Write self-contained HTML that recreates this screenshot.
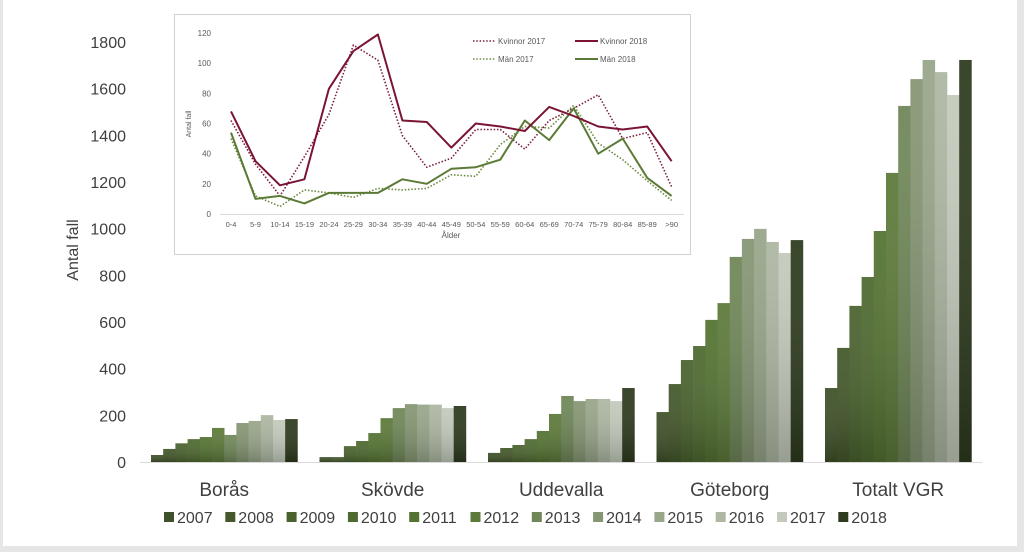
<!DOCTYPE html>
<html><head><meta charset="utf-8"><style>
html,body{margin:0;padding:0;background:#e6e6e6;}
svg{display:block;font-family:"Liberation Sans",sans-serif;}
</style></head><body>
<svg id="c" width="1024" height="552" viewBox="0 0 1024 552" xmlns="http://www.w3.org/2000/svg">
<defs>
<linearGradient id="shade" x1="0" y1="0" x2="0" y2="1">
<stop offset="0" stop-color="#fff" stop-opacity="0.06"/>
<stop offset="1" stop-color="#000" stop-opacity="0.22"/>
</linearGradient>
</defs>
<rect x="3" y="0" width="1014" height="546" fill="#ffffff"/>
<g id="main"></g>
<g id="inset"></g>
</svg>
<script>
var regions=["Borås","Skövde","Uddevalla","Göteborg","Totalt VGR"];
var years=["2007","2008","2009","2010","2011","2012","2013","2014","2015","2016","2017","2018"];
var boras=[30,56,80,98,107,146,116,167,176,201,180,184];
var skovde=[21,21,68,90,124,188,231,248,246,246,231,240];
var uddevalla=[39,60,73,98,133,206,283,261,270,270,261,317];
var goteborg=[214,334,437,497,609,681,879,956,999,943,896,951];
var totalt=[317,489,669,793,990,1239,1526,1641,1723,1671,1573,1723];
var yTicks=[0,200,400,600,800,1000,1200,1400,1600,1800];
var colors=["#3f5129","#44582b","#4a622e","#4f6a30","#547332","#5d7a3a","#6f8758","#859673","#98a68a","#adb7a2","#c3cabb","#2e3b1e"];

var ages=["0-4","5-9","10-14","15-19","20-24","25-29","30-34","35-39","40-44","45-49","50-54","55-59","60-64","65-69","70-74","75-79","80-84","85-89",">90"];
var kv2017=[62,33,12,38,66,112,102,52,31,37,56,56,43,62,70,79,50,54,18];
var kv2018=[68,35,19,23,83,108,119,62,61,44,60,58,55,71,65,58,56,58,35];
var man2017=[50,12,5,16,14,11,17,16,17,26,25,46,58,57,72,47,36,22,9];
var man2018=[54,10,12,7,14,14,14,23,20,30,31,36,62,49,70,40,50,24,12];
var insetTicks=[0,20,40,60,80,100,120];

var NS="http://www.w3.org/2000/svg";
function mk(p,tag,at){var e=document.createElementNS(NS,tag);for(var k in at)e.setAttribute(k,at[k]);p.appendChild(e);return e;}
var main=document.getElementById('main');
var y=function(v){return 462-v*420/1800;};
var gx0=140,gw=168.5,bw=12.2,bOff=11;
function gx(i){return gx0+i*gw;}
// axis line
var ax=mk(main,'line',{x1:140,y1:462.5,x2:982,y2:462.5,stroke:'#d9d9d9','stroke-width':1});


yTicks.forEach(function(t){
 var tx=mk(main,'text',{x:126,y:y(t)+6,'text-anchor':'end','font-size':16,fill:'#404040'});
 tx.textContent=t;
 
 
});
var yt=mk(main,'text',{x:0,y:0,transform:'translate(78,250) rotate(-90)','text-anchor':'middle','font-size':16,fill:'#404040'});
yt.textContent='Antal fall';


var series=[boras,skovde,uddevalla,goteborg,totalt];
series.forEach(function(arr,gi){
 arr.forEach(function(v,bi){
  var x=gx(gi)+bOff+bi*bw;
  var r=mk(main,'rect',{x:x,y:y(v),width:bw+0.3,height:462-y(v),fill:colors[bi]});
  
  
  var s=mk(main,'rect',{x:x,y:y(v),width:bw+0.3,height:462-y(v),fill:'url(#shade)'});
  
  
 });
 var lbl=mk(main,'text',{x:gx(gi)+bOff+6*bw,y:496,'text-anchor':'middle','font-size':19,fill:'#404040'});
 lbl.textContent=regions[gi];
 
 
});
// legend
var lx=164;
years.forEach(function(yr,i){
 var x=lx+i*61.3;
 var sq=mk(main,'rect',{x:x,y:512,width:10,height:10,fill:colors[i]});
 
 
 var t=mk(main,'text',{x:x+13,y:523,'font-size':16,fill:'#404040'});
 t.textContent=yr;
 
 
});

// inset
var ins=document.getElementById('inset');
var box=mk(ins,'rect',{x:174.5,y:14.5,width:516,height:240,fill:'#fff',stroke:'#d0d0d0','stroke-width':1});


var iy=function(v){return 214-v*181/120;};
var ix=function(i){return 231+i*24.48;};
var il=mk(ins,'line',{x1:220,y1:214.5,x2:684,y2:214.5,stroke:'#d9d9d9','stroke-width':1});


insetTicks.forEach(function(t){
 var tx=mk(ins,'text',{x:211,y:iy(t)+3,'text-anchor':'end','font-size':8,fill:'#595959'});
 tx.textContent=t;
 
 
});
ages.forEach(function(a,i){
 var tx=mk(ins,'text',{x:ix(i),y:227,'text-anchor':'middle','font-size':7.5,fill:'#595959'});
 tx.textContent=a;
 
 
});
var xt=mk(ins,'text',{x:451,y:238,'text-anchor':'middle','font-size':8,fill:'#595959'});
xt.textContent='Ålder';


var iyt=mk(ins,'text',{x:0,y:0,transform:'translate(191,124) rotate(-90)','text-anchor':'middle','font-size':7,fill:'#595959'});
iyt.textContent='Antal fall';


function line(arr,col,dash,name){
 var d=arr.map(function(v,i){return (i?'L':'M')+ix(i).toFixed(1)+' '+iy(v).toFixed(1);}).join(' ');
 var p=mk(ins,'path',{d:d,fill:'none',stroke:col,'stroke-width':dash?1.6:2,'stroke-dasharray':dash?'1.5 1.8':'none','stroke-linejoin':'round'});
 
 
}
line(man2017,'#6b8a40',true,'line-man-2017');
line(kv2017,'#7a1f3d',true,'line-kvinnor-2017');
line(man2018,'#5a7a35',false,'line-man-2018');
line(kv2018,'#7a1432',false,'line-kvinnor-2018');
var leg=[["Kvinnor 2017","#7a1f3d",true,473,44],["Kvinnor 2018","#7a1432",false,575,44],["Män 2017","#6b8a40",true,473,62],["Män 2018","#5a7a35",false,575,62]];
leg.forEach(function(l){
 var ln=mk(ins,'line',{x1:l[3],y1:l[4]-3,x2:l[3]+23,y2:l[4]-3,stroke:l[1],'stroke-width':l[2]?1.6:2,'stroke-dasharray':l[2]?'1.5 1.8':'none'});
 
 
 var t=mk(ins,'text',{x:l[3]+25,y:l[4],'font-size':8,fill:'#595959'});
 t.textContent=l[0];
 
 
});
</script>
</body></html>
